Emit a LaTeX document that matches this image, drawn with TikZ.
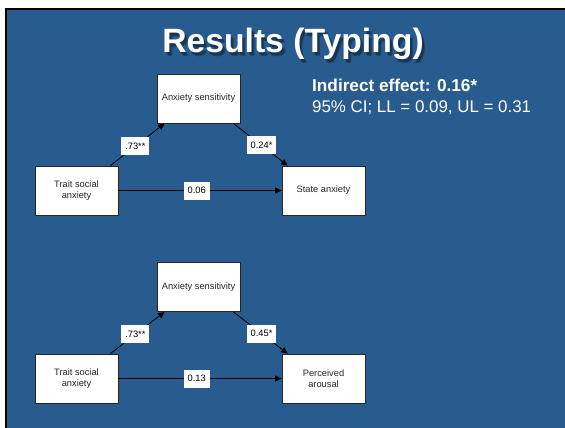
\documentclass[tikz,border=0pt]{standalone}
\usepackage{fontspec}
\setmainfont{Liberation Sans}
\usetikzlibrary{arrows.meta,calc}
\definecolor{slideblue}{HTML}{285C8E}
\begin{document}
\begin{tikzpicture}[x=1pt,y=-1pt,
  box/.style={draw=black!85, line width=0.8pt, fill=white, minimum width=83pt, minimum height=49pt, inner sep=0pt, align=center, font=\fontsize{9.3}{11}\selectfont, text=black!85},
  lbl/.style={fill=white, inner xsep=4pt, inner ysep=0pt, minimum height=18pt, font=\fontsize{9.3}{11}\selectfont, text=black},
  conn/.style={line width=0.8pt, draw=black, -{Triangle[length=6.5pt,width=6pt]}},
  slidetext/.style={anchor=base west, inner sep=0pt, text=white},
  titlefont/.style={anchor=base, inner sep=0pt, font=\bfseries\fontsize{33.7}{40}\selectfont},
]
\useasboundingbox (0,0) rectangle (565,428);
\fill[white] (0,0) rectangle (565,428);
\fill[slideblue] (5,9) rectangle (565,428);
\draw[line width=1.8pt] (5.8,428) -- (5.8,9) -- (565,9);

% title with soft shadow
\node[titlefont, text=black, opacity=0.22] (titleshadowA) at (296,56.5) {Results (Typing)};
\node[titlefont, text=black, opacity=0.25] (titleshadowB) at (295,55.2) {Results (Typing)};
\node[titlefont, text=white] (title) at (293,53) {Results (Typing)};

\node[slidetext, font=\bfseries\fontsize{17.2}{20}\selectfont] (ind) at (312,92) {Indirect effect: 0.16*};
\node[slidetext, font=\fontsize{16.9}{20}\selectfont] (ci) at (312,112.7) {95\% CI; LL = 0.09, UL = 0.31};

% top model
\node[box] (a1) at (198.5,98.5) {Anxiety sensitivity};
\node[box] (t1) at (76.5,190.5) {Trait social\\anxiety};
\node[box] (s1) at (323.5,190.5) {State anxiety};
\draw[conn] ([xshift=-8pt]t1.north east) -- ([xshift=8pt]a1.south west) node[lbl, pos=0.46] (l1) {.73**};
\draw[conn] ([xshift=-7pt]a1.south east) -- ([xshift=6pt]s1.north west) node[lbl, pos=0.52] (l2) {0.24*};
\draw[conn] (t1.east) -- (s1.west) node[lbl, pos=0.48] (l3) {0.06};

% bottom model
\node[box] (a2) at (198.5,287) {Anxiety sensitivity};
\node[box] (t2) at (76.5,378.5) {Trait social\\anxiety};
\node[box] (p2) at (323.5,378.5) {Perceived\\arousal};
\draw[conn] ([xshift=-8pt]t2.north east) -- ([xshift=8pt]a2.south west) node[lbl, pos=0.46] (l4) {.73**};
\draw[conn] ([xshift=-7pt]a2.south east) -- ([xshift=6pt]p2.north west) node[lbl, pos=0.52] (l5) {0.45*};
\draw[conn] (t2.east) -- (p2.west) node[lbl, pos=0.48] (l6) {0.13};
\end{tikzpicture}
\end{document}
